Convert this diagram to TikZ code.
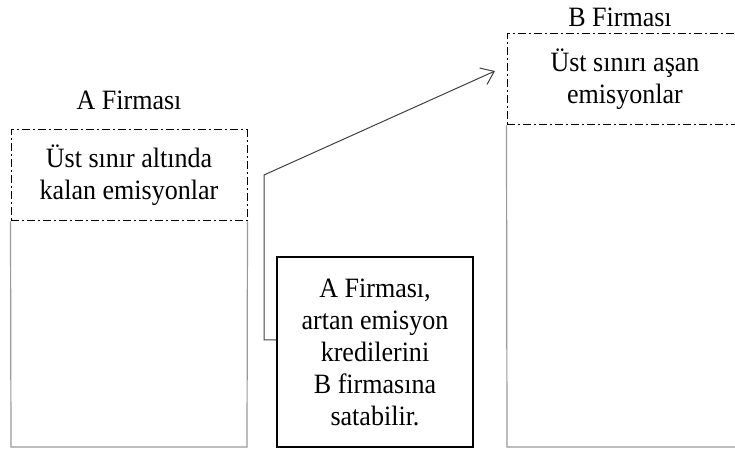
\documentclass[tikz,border=0pt]{standalone}
\usepackage{fontspec}
\setmainfont{Liberation Serif}[FakeStretch=0.93]
\usetikzlibrary{arrows.meta}
\begin{document}
\begin{tikzpicture}[x=0.5pt,y=-0.5pt,
  every node/.style={font=\fontsize{14}{16}\selectfont, inner sep=0pt},
  dashbox/.style={draw, line width=0.5pt, dash pattern=on 4pt off 1.6pt on 0.8pt off 1.6pt, minimum width=118pt, minimum height=45.5pt, align=center},
  solidbox/.style={draw, line width=0.6pt, minimum width=98pt, minimum height=95pt, align=center},
  lowline/.style={draw=black!40, line width=0.6pt},
  conn/.style={draw=black!75, line width=0.5pt}]
\useasboundingbox (0,0) rectangle (735,449);
\node[dashbox] (ua) at (129,175.5) {Üst sınır altında\\kalan emisyonlar};
\node[dashbox] (ub) at (625,79.5) {Üst sınırı aşan\\emisyonlar};
\node (la) at (129,100) {A Firması};
\node (lb) at (620,17) {B Firması};
\node[solidbox] (mid) at (375,352) {A Firması,\\artan emisyon\\kredilerini\\B firmasına\\satabilir.};
\coordinate (ab) at (11,447);
\coordinate (bb) at (247,447);
\coordinate (cb) at (507,447);
\coordinate (db) at (740,447);
\draw[lowline] (ua.south west) -- (ab) -- (bb) -- (ua.south east);
\draw[lowline] (ub.south west) -- (cb) -- (db);
\coordinate (k1) at (264,340);
\coordinate (k2) at (264,175);
\coordinate (tip) at (495,71);
\draw[conn, -{Straight Barb[length=6pt,width=9pt]}] (mid.west |- k1) -- (k1) -- (k2) -- (tip);
\end{tikzpicture}
\end{document}
